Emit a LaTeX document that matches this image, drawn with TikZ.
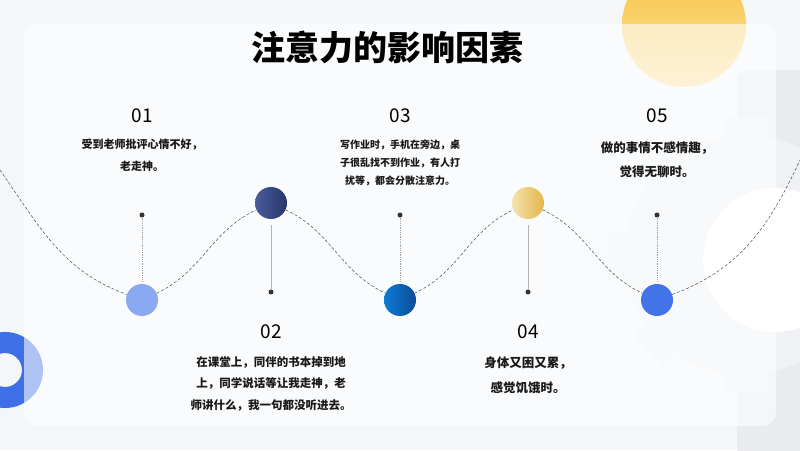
\documentclass[tikz,border=0pt]{standalone}
\usepackage{fontspec}
\usepackage{xcolor}
\usepackage{tikz}
\usetikzlibrary{positioning}
\newfontfamily\cjk{Noto Sans CJK SC}

\definecolor{pagebg}{HTML}{F5F6F8}
\definecolor{sunny}{HTML}{F8C23E}
\definecolor{sunnylight}{HTML}{FBE2A0}
\definecolor{ringblue}{HTML}{3F6FE6}
\definecolor{panelgray}{HTML}{E9EBEF}
\definecolor{geargray}{HTML}{F0F1F4}
\definecolor{paleblue}{HTML}{8BA8F2}
\definecolor{navyL}{HTML}{4A5C9C}
\definecolor{navyR}{HTML}{27356B}
\definecolor{oceanL}{HTML}{0C7BD3}
\definecolor{oceanR}{HTML}{0A4C95}
\definecolor{sandL}{HTML}{F4E2B0}
\definecolor{sandR}{HTML}{E3B648}
\definecolor{royal}{HTML}{4373E8}

\begin{document}
\begin{tikzpicture}[
        x=1pt, y=1pt,
        bubble/.style={circle, minimum size=32pt, inner sep=0pt},
        numlabel/.style={font=\cjk\fontsize{19}{19}\selectfont, inner sep=0pt},
        desc/.style={align=center, inner sep=0pt, text=black!90},
        pin/.style={circle, fill=black!80, minimum size=5pt, inner sep=0pt},
        wave/.style={densely dashed, black!70, line width=0.5pt},
        stem/.style={gray!60, line width=0.8pt},
        dotstem/.style={gray!70, densely dotted, line width=0.8pt}
    ]
        % Backdrop
        \useasboundingbox (0,0) rectangle (800,450);
        \clip (0,0) rectangle (800,450);
        \fill[pagebg] (0,0) rectangle (800,450);
        \fill[panelgray, rounded corners=10pt] (737,-10) rectangle (820,380);
        \fill[geargray] (745,195) circle (120);
        \foreach \a in {0,45,...,315}
            \fill[geargray, rotate around={\a:(745,195)}] (722,300) rectangle (768,332);
        \fill[white] (775,190) circle (72);
        \shade[top color=sunny, bottom color=sunnylight] (684,425) circle (62);
        \fill[ringblue, even odd rule] (5,80) circle (38) (5,80) circle (17);

        % Glass card
        \node (card) [fill=white, fill opacity=.58, rounded corners=14pt,
            minimum width=752pt, minimum height=402pt, inner sep=0pt] at (400,225) {};

        \node (title) at (387,403) {\cjk\bfseries\fontsize{34}{34}\selectfont 注意力的影响因素};

        % Numbers and texts
        \node (n1) [numlabel] at (142,334) {01};
        \node (t1) [desc, below=16pt of n1, font=\cjk\bfseries\fontsize{11}{22}\selectfont] {受到老师批评心情不好，\\老走神。};
        \node (n3) [numlabel] at (400,334) {03};
        \node (t3) [desc, below=16pt of n3, font=\cjk\bfseries\fontsize{10}{18}\selectfont] {写作业时，手机在旁边，桌\\子很乱找不到作业，有人打\\扰等，都会分散注意力。};
        \node (n5) [numlabel] at (657,334) {05};
        \node (t5) [desc, below=18pt of n5, font=\cjk\bfseries\fontsize{12.5}{24}\selectfont] {做的事情不感情趣，\\觉得无聊时。};
        \node (n2) [numlabel] at (271,118) {02};
        \node (t2) [desc, below=17pt of n2, font=\cjk\bfseries\fontsize{11.5}{21.5}\selectfont] {在课堂上，同伴的书本掉到地\\上，同学说话等让我走神，老\\师讲什么，我一句都没听进去。};
        \node (n4) [numlabel] at (528,118) {04};
        \node (t4) [desc, below=17pt of n4, font=\cjk\bfseries\fontsize{12.5}{25}\selectfont] {身体又困又累，\\感觉饥饿时。};

        % Circles on the wave
        \node (c1) [bubble, fill=paleblue] at (142,150) {};
        \node (c2) [bubble, left color=navyL, right color=navyR] at (271,247) {};
        \node (c3) [bubble, left color=oceanL, right color=oceanR] at (400,150) {};
        \node (c4) [bubble, left color=sandL, right color=sandR] at (528,247) {};
        \node (c5) [bubble, fill=royal] at (657,150) {};

        % Wave
        \coordinate (wl) at (0,280);
        \coordinate (wr) at (800,290);
        \draw[wave] (wl) to[out=-55, in=160] (c1);
        \draw[wave] (c1) to[out=25, in=205] (c2);
        \draw[wave] (c2) to[out=-25, in=155] (c3);
        \draw[wave] (c3) to[out=25, in=205] (c4);
        \draw[wave] (c4) to[out=-25, in=155] (c5);
        \draw[wave] (c5) to[out=20, in=-115] (wr);

        % Pins
        \node (d1) [pin] at (142,235) {};
        \node (d3) [pin] at (400,235) {};
        \node (d5) [pin] at (657,235) {};
        \node (d2) [pin] at (271,158) {};
        \node (d4) [pin] at (528,158) {};
        \draw[dotstem, shorten >=2pt] (d1) -- (c1);
        \draw[dotstem, shorten >=2pt] (d3) -- (c3);
        \draw[dotstem, shorten >=2pt] (d5) -- (c5);
        \draw[stem, shorten <=6pt] (c2) -- (d2);
        \draw[stem, shorten <=6pt] (c4) -- (d4);

    \end{tikzpicture}
\end{document}
